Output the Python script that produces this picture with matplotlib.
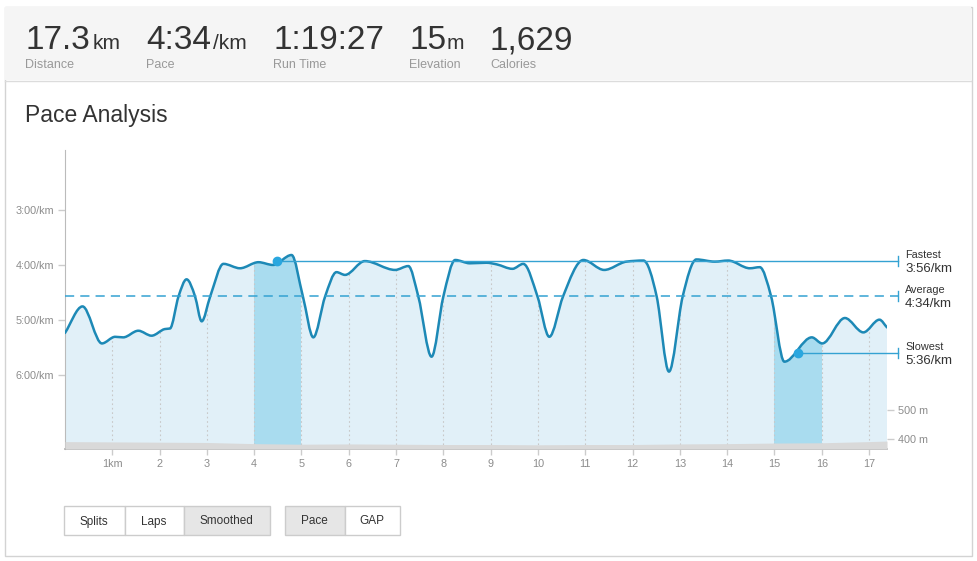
import matplotlib
matplotlib.use("Agg")
import matplotlib.pyplot as plt
import numpy as np
from matplotlib.path import Path
from matplotlib.patches import PathPatch, Rectangle
import matplotlib.transforms as mtransforms

plt.rcParams['font.family'] = ['Liberation Sans', 'DejaVu Sans']

# header stats
stat_values = ["17.3", "4:34", "1:19:27", "15", "1,629"]
stat_units = ["km", "/km", "", "m", ""]
stat_labels = ["Distance", "Pace", "Run Time", "Elevation", "Calories"]

# smoothed pace (min/km) vs distance (km)
km = [0.0, 0.37, 0.78, 1.06, 1.23, 1.55, 1.83, 2.11, 2.22, 2.40, 2.57, 2.75, 2.89,
      3.07, 3.35, 3.70, 4.09, 4.40, 4.79, 5.03, 5.25, 5.50, 5.74, 5.92, 6.34, 6.98,
      7.26, 7.47, 7.75, 8.00, 8.25, 8.56, 8.91, 9.13, 9.46, 9.69, 9.99, 10.24, 10.53,
      10.96, 11.40, 11.87, 12.23, 12.51, 12.77, 13.06, 13.35, 13.74, 14.02, 14.48,
      14.69, 14.93, 15.21, 15.79, 16.01, 16.49, 16.88, 17.22, 17.38]
pace = [5.23, 4.75, 5.42, 5.30, 5.31, 5.19, 5.28, 5.16, 5.15, 4.57, 4.26, 4.57, 5.02,
        4.57, 3.98, 4.06, 3.95, 4.00, 3.82, 4.57, 5.31, 4.57, 4.13, 4.18, 3.93, 4.09,
        4.02, 4.57, 5.66, 4.57, 3.91, 3.97, 3.96, 3.99, 4.07, 3.98, 4.57, 5.30, 4.57,
        3.91, 4.09, 3.94, 3.92, 4.57, 5.93, 4.57, 3.90, 3.94, 3.92, 4.06,
        4.04, 4.57, 5.75, 5.31, 5.42, 4.96, 5.22, 4.99, 5.13]

# elevation profile (m)
elev_km = [0, 1, 2, 3, 4, 5, 6, 7, 8, 9, 10, 11, 12, 13, 14, 15, 16, 17, 17.38]
elev_m = [391, 390, 389, 388, 384, 382, 383, 382, 381, 381, 380, 381, 381, 383, 384, 386, 387, 391, 393]

# split markers
fastest_km, fastest_pace, fastest_label = 4.49, 3 + 56 / 60, "3:56/km"
slowest_km, slowest_pace, slowest_label = 15.5, 5 + 36 / 60, "5:36/km"
average_pace, average_label = 4 + 34 / 60, "4:34/km"
highlight_splits = [(4, 5), (15, 16)]

pace_ticks = [3, 4, 5, 6]
pace_ticklabels = ["3:00/km", "4:00/km", "5:00/km", "6:00/km"]
km_ticks = list(range(1, 18))
km_ticklabels = ["1km"] + [str(k) for k in range(2, 18)]

buttons = ["Splits", "Laps", "Smoothed", "Pace", "GAP"]
button_active = [False, False, True, True, False]


def monotone_path(x, y, ybase=None):
    x = np.asarray(x, float)
    y = np.asarray(y, float)
    h = np.diff(x)
    d = np.diff(y) / h
    m = np.zeros_like(y)
    m[0], m[-1] = d[0], d[-1]
    for k in range(1, len(y) - 1):
        s0, s1 = d[k - 1], d[k]
        if s0 * s1 <= 0:
            m[k] = 0
        else:
            p = (s0 * h[k] + s1 * h[k - 1]) / (h[k - 1] + h[k])
            m[k] = (np.sign(s0) + np.sign(s1)) * min(abs(s0), abs(s1), 0.5 * abs(p))
    verts = [(x[0], y[0])]
    codes = [Path.MOVETO]
    for k in range(len(x) - 1):
        dx = h[k] / 3
        verts += [(x[k] + dx, y[k] + m[k] * dx), (x[k + 1] - dx, y[k + 1] - m[k + 1] * dx), (x[k + 1], y[k + 1])]
        codes += [Path.CURVE4] * 3
    if ybase is not None:
        verts += [(x[-1], ybase), (x[0], ybase), (x[0], y[0])]
        codes += [Path.LINETO, Path.LINETO, Path.CLOSEPOLY]
    return Path(verts, codes)


W, H = 978, 561
fig = plt.figure(figsize=(W / 100, H / 100), dpi=100)

# page background in pixel coords
bg = fig.add_axes([0, 0, 1, 1], zorder=-5)
bg.set_xlim(0, W)
bg.set_ylim(H, 0)
bg.axis('off')
bg.add_patch(Rectangle((4.5, 6.5), 967, 549, facecolor='white', edgecolor='#d3d3d3', lw=1))
bg.add_patch(Rectangle((5, 7), 966, 73, facecolor='#f5f5f5', edgecolor='none'))
bg.plot([5, 971], [80.5, 80.5], color='#dcdcdc', lw=1)

stat_x = [25, 146, 273, 409, 490]
unit_x = [93, 213, 0, 447, 0]
for i, v in enumerate(stat_values):
    bg.text(stat_x[i], 49, v, fontsize=24, color='#333333', va='baseline', ha='left')
    if stat_units[i]:
        bg.text(unit_x[i], 49, stat_units[i], fontsize=15, color='#333333', va='baseline', ha='left')
    bg.text(stat_x[i], 68, stat_labels[i], fontsize=9, color='#999999', va='baseline', ha='left')

bg.text(25, 115, "Pace Analysis", fontsize=16.5, color='#333333', va='center', ha='left')

# buttons
btn_x = [63, 124, 183, 284, 344]
btn_w = [61, 59, 86, 60, 55]
for i, b in enumerate(buttons):
    bg.add_patch(Rectangle((btn_x[i] + 0.5, 505.5), btn_w[i], 29,
                           facecolor='#e6e6e6' if button_active[i] else 'white',
                           edgecolor='#cccccc', lw=1))
    bg.text(btn_x[i] + btn_w[i] / 2 + 0.5, 524.5, b, fontsize=8.5, color='#333333', ha='center', va='baseline')

# main pace chart
x0, x1, y0, y1 = 65, 887, 150, 449
ax = fig.add_axes([x0 / W, 1 - y1 / H, (x1 - x0) / W, (y1 - y0) / H])
ax.patch.set_visible(False)
ax.set_xlim(0, km[-1])
ybot, ytop = 7.33, 1.92
ax.set_ylim(ybot, ytop)

fill_path = monotone_path(km, pace, ybase=ybot)
fill_patch = PathPatch(fill_path, facecolor='#e1f0f8', edgecolor='none', zorder=1)
ax.add_patch(fill_patch)

for a, b in highlight_splits:
    r = ax.axvspan(a, b, color='#a9dcef', lw=0, zorder=1.5)
    r.set_clip_path(fill_patch)

for k in km_ticks:
    g = ax.axvline(k, color='#c8c8c8', lw=0.8, ls=(0, (1.5, 2.5)), zorder=2)
    g.set_clip_path(fill_patch)

ax.add_patch(PathPatch(monotone_path(km, pace), facecolor='none', edgecolor='#1d89b6',
                       lw=1.8, zorder=4, capstyle='round', joinstyle='round'))

line_col = '#34a2d2'
end_frac = (898 - x0) / (x1 - x0)
text_frac = (905 - x0) / (x1 - x0)
trans = mtransforms.blended_transform_factory(ax.transAxes, ax.transData)
tick_h = 0.09

ax.axhline(average_pace, xmin=0, xmax=end_frac, color=line_col, lw=1.1, ls=(0, (6, 4)), clip_on=False, zorder=5)
ax.axhline(fastest_pace, xmin=fastest_km / km[-1], xmax=end_frac, color=line_col, lw=1, clip_on=False, zorder=5)
ax.axhline(slowest_pace, xmin=slowest_km / km[-1], xmax=end_frac, color=line_col, lw=1, clip_on=False, zorder=5)
for yv, name, lab in [(fastest_pace, "Fastest", fastest_label),
                      (average_pace, "Average", average_label),
                      (slowest_pace, "Slowest", slowest_label)]:
    ax.plot([end_frac, end_frac], [yv - tick_h, yv + tick_h], color=line_col, lw=1,
            transform=trans, clip_on=False, zorder=5)
    ax.text(text_frac, yv - 0.02, name, transform=trans, fontsize=7.8, color='#333333',
            va='bottom', ha='left')
    ax.text(text_frac, yv + 0.03, lab, transform=trans, fontsize=9.5, color='#333333',
            va='top', ha='left')

ax.plot([fastest_km, slowest_km], [fastest_pace, slowest_pace], 'o', ms=6,
        color='#2aa7df', zorder=6, clip_on=False)

ax.set_yticks(pace_ticks)
ax.set_yticklabels(pace_ticklabels)
ax.set_xticks(km_ticks)
ax.set_xticklabels(km_ticklabels)
ax.tick_params(axis='both', colors='#cccccc', labelcolor='#8c8c8c', labelsize=7.8, length=5, width=1)
ax.tick_params(axis='x', pad=3, length=4)
ax.tick_params(axis='y', pad=3)
for s in ['top', 'right']:
    ax.spines[s].set_visible(False)
ax.spines['left'].set_color('#bbbbbb')
ax.spines['bottom'].set_color('#aaaaaa')
ax.spines['bottom'].set_linewidth(1.2)

# elevation on secondary axis
ax2 = ax.twinx()
ax2.set_ylim(365.5, 1396.6)
ax2.fill_between(elev_km, elev_m, 365.5, color='#d9d9d9', lw=0, zorder=3)
ax2.set_yticks([400, 500])
ax2.set_yticklabels(["400 m", "500 m"])
ax2.tick_params(axis='y', colors='#cccccc', labelcolor='#8c8c8c', labelsize=7.8, length=5, width=1, pad=3)
for s in ax2.spines.values():
    s.set_visible(False)
ax.set_zorder(1)
ax2.set_zorder(2)
ax2.patch.set_visible(False)

fig.savefig("out.png", dpi=100)
